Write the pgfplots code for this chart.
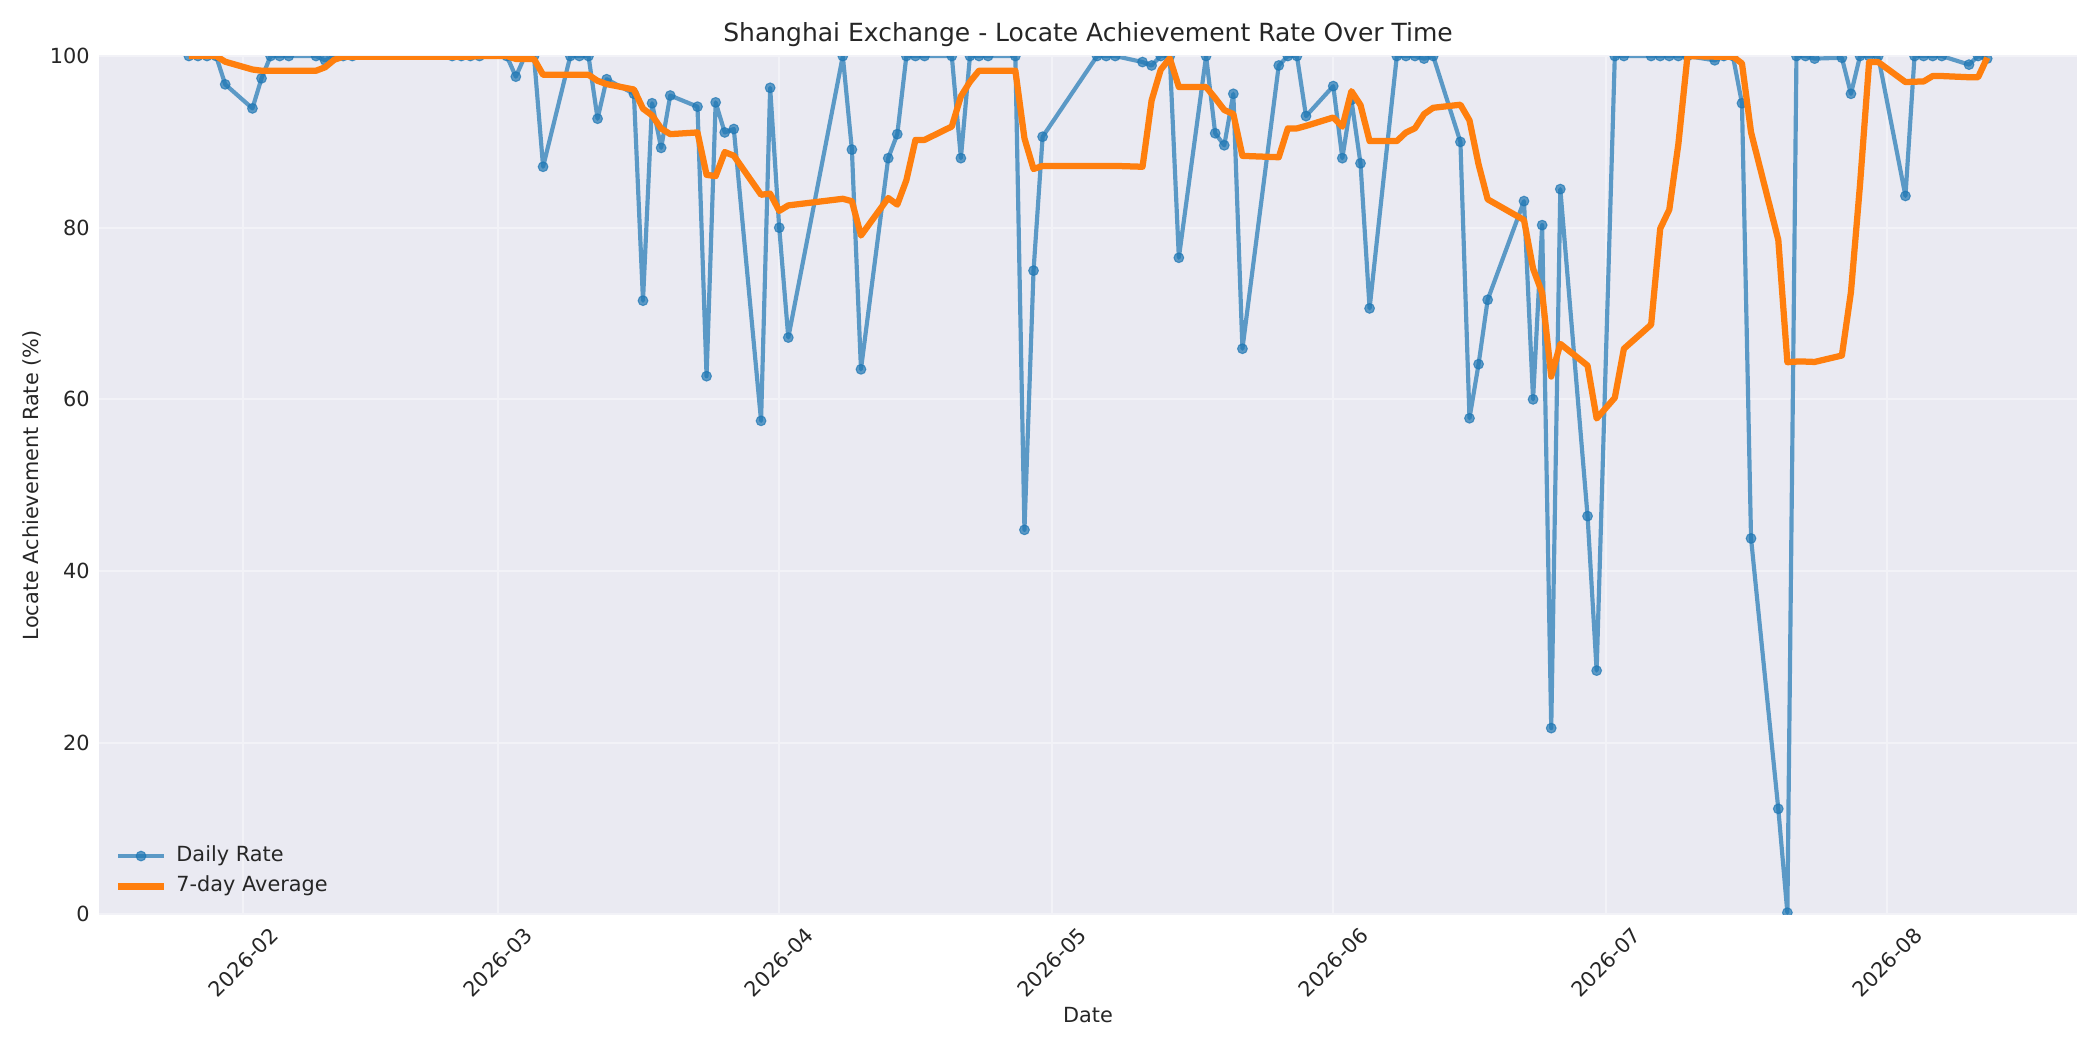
\documentclass[border=0pt]{standalone}
\usepackage{fontspec}
\setmainfont{DejaVu Sans}
\usepackage{pgfplots}
\usepackage{pgfplotstable}
\pgfplotsset{compat=1.18}
\definecolor{bg}{HTML}{EAEAF2}
\definecolor{txt}{HTML}{262626}
\definecolor{c0}{HTML}{1F77B4}
\definecolor{c1}{HTML}{FF7F0E}

% day = days since 2026-01-01 ; rate = daily rate ; avg = 7-day average
\pgfplotstableread{
day rate avg
25 100 100
26 100 100
27 100 100
28 100 100
29 96.7 99.34
32 93.9 98.43
33 97.4 98.29
34 100 98.29
35 100 98.29
36 100 98.29
39 100 98.29
40 99.5 98.69
41 100 99.56
42 100 99.93
43 100 99.93
54 100 99.93
55 100 99.93
56 100 99.93
57 100 100
60 100 100
61 97.6 99.66
62 100 99.66
63 100 99.66
64 87.1 97.81
67 100 97.81
68 100 97.81
69 100 97.81
70 92.7 97.11
71 97.3 96.73
74 95.6 96.10
75 71.5 93.87
76 94.5 93.09
77 89.3 91.56
78 95.4 90.90
81 94.1 91.10
82 62.7 86.16
83 94.6 86.01
84 91.1 88.81
85 91.5 88.39
88 57.5 83.84
89 96.3 83.97
90 80.0 81.96
91 67.2 82.60
97 100 83.37
98 89.1 83.09
99 63.5 79.09
102 88.1 83.46
103 90.9 82.69
104 100 85.54
105 100 90.23
106 100 90.23
109 100 91.79
110 88.1 95.30
111 100 97.00
112 100 98.30
113 100 98.30
116 100 98.30
117 44.8 90.41
118 75.0 86.84
119 90.6 87.20
125 100 87.20
126 100 87.20
127 100 87.20
130 99.3 87.10
131 98.9 94.83
132 100 98.40
133 100 99.74
134 76.5 96.39
137 100 96.39
138 91.0 95.10
139 89.6 93.71
140 95.6 93.24
141 65.9 88.37
145 98.9 88.21
146 100 91.57
147 100 91.57
148 93.0 91.86
151 96.5 92.84
152 88.1 91.77
153 94.9 95.91
154 87.5 94.29
155 70.6 90.09
158 100 90.09
159 100 91.09
160 100 91.59
161 99.7 93.24
162 100 93.97
165 90.0 94.33
166 57.8 92.50
167 64.1 87.37
168 71.6 83.31
172 83.1 80.90
173 60.0 75.23
174 80.3 72.41
175 21.7 62.66
176 84.5 66.47
179 46.4 63.94
180 28.4 57.77
182 100 60.19
183 100 65.90
186 100 68.71
187 100 79.90
188 100 82.11
189 100 89.77
190 100 100
193 99.5 99.93
194 100 99.93
195 100 99.93
196 94.5 99.14
197 43.8 91.11
200 12.3 78.59
201 0.2 64.33
202 100 64.40
203 100 64.40
204 99.7 64.36
207 99.8 65.11
208 95.6 72.51
209 100 85.04
210 100 99.30
211 100 99.30
214 83.7 96.97
215 100 97.01
216 100 97.04
217 100 97.67
218 100 97.67
221 99.0 97.53
222 100 97.53
223 99.7 99.81
}\ratedata

\begin{document}
\begin{tikzpicture}
\path[use as bounding box] (-47.5pt,-65.1pt) rectangle (960.5pt,438.9pt);
\begin{axis}[
  at={(0,0)}, anchor=south west,
  scale only axis, width=949.5pt, height=412pt,
  xmin=15.1, xmax=232.9, ymin=0, ymax=100,
  axis background/.style={fill=bg},
  axis line style={draw=none},
  tick style={draw=none},
  grid=major,
  major grid style={draw=white!40!bg, line width=0.9pt},
  xtick={31,59,90,120,151,181,212},
  xticklabels={2026-02,2026-03,2026-04,2026-05,2026-06,2026-07,2026-08},
  ytick={0,20,40,60,80,100},
  /pgf/number format/assume math mode=true,
  ticklabel style={font=\fontsize{10}{12}\selectfont, text=txt},
  x tick label style={yshift=-23pt, rotate=45, anchor=center, inner sep=0pt},
  y tick label style={anchor=east, inner sep=0pt, xshift=-4.3pt},
  title={Shanghai Exchange - Locate Achievement Rate Over Time},
  title style={at={(axis description cs:0.5,1)}, anchor=south, yshift=-1.7pt, inner sep=0pt,
    font=\fontsize{12}{14.4}\selectfont, text=txt},
  xlabel={Date},
  xlabel style={at={(axis description cs:0.5,-0.1172)}, anchor=center, inner sep=0pt,
    font=\fontsize{10}{12}\selectfont, text=txt},
  ylabel={Locate Achievement Rate (\%)},
  ylabel style={at={(axis description cs:-0.0339,0.5)}, anchor=center, rotate=0, inner sep=0pt,
    font=\fontsize{10}{12}\selectfont, text=txt},
  clip marker paths=true,
  legend cell align=left,
  legend image code/.code={\draw[mark repeat=2,mark phase=2,#1] plot coordinates {(0pt,0pt) (11pt,0pt) (22pt,0pt)};},
  legend style={at={(axis description cs:0,0)}, anchor=south west, xshift=7.7pt, yshift=8.4pt,
    draw=none, fill=none, inner sep=0pt, outer sep=0pt, row sep=4.6pt, column sep=4.5pt,
    font=\fontsize{10}{12}\selectfont, text=txt,
    nodes={inner sep=0pt, text height=7.6pt, text depth=2.4pt}},
]
\addplot[color=c0, opacity=0.7, line width=2pt, line join=round,
  mark=*, mark size=2.35pt, mark options={fill=c0, draw=c0, line width=0.5pt, opacity=0.7}]
  table[x=day, y=rate] {\ratedata};
\addlegendentry{Daily Rate}
\addplot[color=c1, line width=3pt, line join=round, no marks]
  table[x=day, y=avg] {\ratedata};
\addlegendentry{7-day Average}
\end{axis}
\end{tikzpicture}
\end{document}
